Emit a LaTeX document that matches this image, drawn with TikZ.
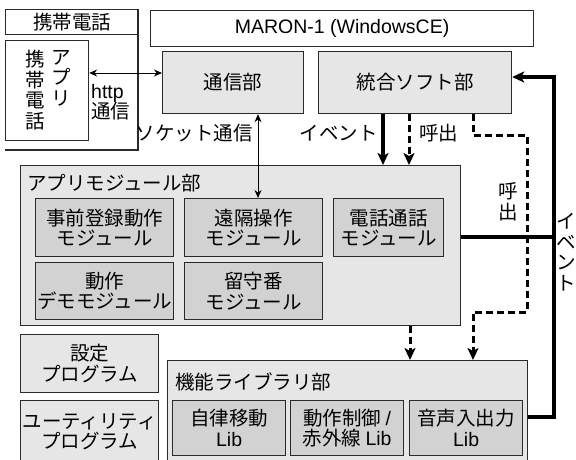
\documentclass[tikz,border=0pt]{standalone}
\usepackage{fontspec}
\setmainfont{Liberation Sans}
\newfontfamily\jp{Noto Sans CJK JP}
\usetikzlibrary{arrows.meta}
\definecolor{bd}{HTML}{2A2A2A}
\definecolor{lightf}{HTML}{E6E6E6}
\definecolor{darkf}{HTML}{D2D2D2}
\tikzset{
  txt/.style={inner sep=0pt, align=center, font=\jp\fontsize{19.5}{20.5}\selectfont},
  box/.style={txt, draw=bd, line width=1.2pt, anchor=north west},
  outerbox/.style={box, fill=white},
  lbox/.style={box, fill=lightf},
  dbox/.style={box, fill=darkf},
  thinarrow/.style={line width=1pt, draw=black, {Stealth[length=8pt,width=7pt]}-{Stealth[length=8pt,width=7pt]}},
  thickline/.style={line width=3.2pt, draw=black},
  thickarrow/.style={thickline, -{Stealth[length=12pt,width=11pt,inset=3pt]}},
  dashline/.style={line width=3pt, draw=black, dash pattern=on 7pt off 4pt},
  dasharrow/.style={dashline, -{Stealth[length=12pt,width=11pt,inset=3pt]}},
}
\begin{document}
\begin{tikzpicture}[x=1pt,y=-1pt]
\useasboundingbox (0,0) rectangle (576,459);
\clip (0,0) rectangle (576,459);
% phone side
\node[outerbox, minimum width=133pt, minimum height=25pt] (phonetitle) at (5,9) {携帯電話};
\node[outerbox, minimum width=83pt, minimum height=100pt] (phoneapp) at (5,40) {};
\node[txt, anchor=north] (appcol1) at (61,50) {ア\\プ\\リ};
\node[txt, anchor=north] (appcol2) at (35,50) {携\\帯\\電\\話};
\coordinate (fr1) at (138,10);
\coordinate (fr2) at (138,150);
\coordinate (fr3) at (5,150);
\draw[draw=bd, line width=1.5pt] (fr1) -- (fr2) -- (fr3);
% MARON
\node[outerbox, minimum width=383pt, minimum height=36pt] (maron) at (150,10) {\rmfamily MARON-1 (WindowsCE)};
\node[lbox, minimum width=141pt, minimum height=62pt] (comm) at (162,51) {通信部};
\node[lbox, minimum width=193pt, minimum height=62pt] (integ) at (318,51) {統合ソフト部};
% app modules
\node[lbox, minimum width=440pt, minimum height=160pt] (appmod) at (20,165) {};
\node[txt, anchor=west] (appmodlbl) at (27,183) {アプリモジュール部};
\node[dbox, minimum width=138pt, minimum height=58pt] (m1) at (35,198) {事前登録動作\\モジュール};
\node[dbox, minimum width=138pt, minimum height=58pt] (m2) at (184,198) {遠隔操作\\モジュール};
\node[dbox, minimum width=110pt, minimum height=58pt] (m3) at (333,198) {電話通話\\モジュール};
\node[dbox, minimum width=138pt, minimum height=57pt] (m4) at (35,262) {動作\\デモモジュール};
\node[dbox, minimum width=138pt, minimum height=57pt] (m5) at (184,262) {留守番\\モジュール};
% programs
\node[lbox, minimum width=138pt, minimum height=58pt] (setting) at (20,334) {設定\\プログラム};
\node[lbox, minimum width=138pt, minimum height=62pt] (util) at (20,400) {ユーティリティ\\プログラム};
% library
\node[lbox, minimum width=360pt, minimum height=110pt] (lib) at (167,360) {};
\node[txt, anchor=west] (liblbl) at (175,382) {機能ライブラリ部};
\node[dbox, minimum width=113pt, minimum height=55pt] (l1) at (172,400) {自律移動\\{\rmfamily Lib}};
\node[dbox, minimum width=113pt, minimum height=55pt] (l2) at (290,400) {動作制御 {\rmfamily /}\\赤外線 {\rmfamily Lib}};
\node[dbox, minimum width=113pt, minimum height=55pt] (l3) at (409,400) {音声入出力\\{\rmfamily Lib}};
% connectors
\coordinate (hy) at (0,73);
\draw[thinarrow] (phoneapp.east |- hy) -- (comm.west |- hy);
\node[txt, align=left, anchor=west] (httplbl) at (91,102) {{\rmfamily http}\\通信};
\coordinate (sx) at (258,0);
\draw[thinarrow] (comm.south -| sx) -- (m2.north -| sx);
\node[txt, anchor=east] (socklbl) at (253,133) {ソケット通信};
\coordinate (ex) at (383,0);
\draw[thickarrow] (integ.south -| ex) -- (appmod.north -| ex);
\node[txt, anchor=east] (evlbl) at (378,133) {イベント};
\coordinate (cx) at (409,0);
\draw[dasharrow] (integ.south -| cx) -- (appmod.north -| cx);
\node[txt, anchor=west] (calllbl) at (419,133) {呼出};
% dashed route to library
\coordinate (d1) at (473,135);
\coordinate (d2) at (527,135);
\coordinate (d3) at (527,312);
\coordinate (d4) at (473,312);
\draw[dasharrow] (integ.south -| d1) -- (d1) -- (d2) -- (d3) -- (d4) -- (lib.north -| d4);
\node[txt] (call2lbl) at (508,202) {呼\\出};
\coordinate (bx) at (410,0);
\draw[dasharrow] (appmod.south -| bx) -- (lib.north -| bx);
% thick event route
\coordinate (t1) at (554,417);
\coordinate (t2) at (554,77);
\coordinate (t3) at (554,237);
\draw[thickarrow] (lib.east |- t1) -- (t1) -- (t2) -- (integ.east |- t2);
\draw[thickline] (appmod.east |- t3) -- (t3);
\node[txt] (ev2lbl) at (566,252) {イ\\ベ\\ン\\ト};
\end{tikzpicture}
\end{document}
